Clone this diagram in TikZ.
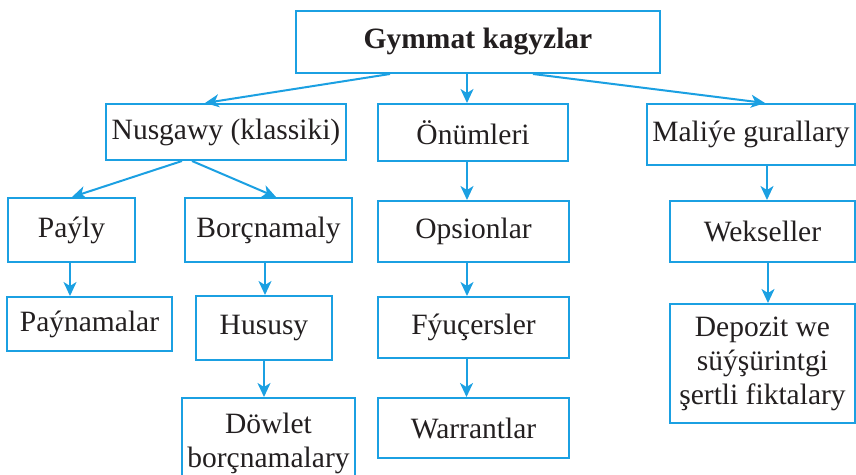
\documentclass[tikz,border=0pt]{standalone}
\usepackage{fontspec}
\setmainfont{Liberation Serif}
\usepackage{tikz}
\usetikzlibrary{arrows.meta,calc}
\definecolor{frame}{HTML}{1BA0E2}
\definecolor{ink}{HTML}{231F20}

\begin{document}
\begin{tikzpicture}[x=1pt,y=-1pt,
    cell/.style={draw=frame, line width=2pt, text=ink, align=center,
                 inner sep=2pt, font=\fontsize{29.5}{34}\selectfont},
    link/.style={draw=frame, line width=2pt,
                 -{Stealth[length=14pt,width=13pt,inset=4pt]}}]
        \clip (0,0) rectangle (856,474);
        % top level
        \node[cell, minimum width=364pt, minimum height=62pt,
              font=\fontsize{29.5}{34}\selectfont\bfseries] (top) at (478,42) {Gymmat kagyzlar};
        % second row
        \node[cell, minimum width=240pt, minimum height=56pt] (nusg) at (226,132) {Nusgawy (klassiki)};
        \node[cell, minimum width=190pt, minimum height=57pt] (onum) at (473,132.5) {Önümleri};
        \node[cell, minimum width=208pt, minimum height=61pt] (mal) at (751,134.5) {Maliýe gurallary};
        % third row
        \node[cell, minimum width=127pt, minimum height=64pt] (payly) at (71.5,230) {Paýly};
        \node[cell, minimum width=167pt, minimum height=64pt] (borc) at (268.5,230) {Borçnamaly};
        \node[cell, minimum width=191pt, minimum height=61pt] (ops) at (473.5,231.5) {Opsionlar};
        \node[cell, minimum width=185pt, minimum height=61pt] (wek) at (762.5,231.5) {Wekseller};
        % fourth row
        \node[cell, minimum width=165pt, minimum height=54pt] (payn) at (89.5,324) {Paýnamalar};
        \node[cell, minimum width=136pt, minimum height=64pt] (hus) at (264,328) {Hususy};
        \node[cell, minimum width=191pt, minimum height=61pt] (fyu) at (473.5,327.5) {Fýuçersler};
        \node[cell, minimum width=185pt, minimum height=119pt] (dep) at (762.5,363.5)
            {Depozit we\\ süýşürintgi\\ şertli fiktalary};
        % fifth row
        \node[cell, minimum width=173pt, minimum height=90pt] (dow) at (268.5,443) {Döwlet\\ borçnamalary};
        \node[cell, minimum width=191pt, minimum height=60pt] (war) at (473.5,428) {Warrantlar};

        % connectors
        \draw[link] ([xshift=-88pt]top.south) -- ([xshift=-21pt]nusg.north);
        \draw[link] ([xshift=-11pt]top.south) -- ([xshift=-6pt]onum.north);
        \draw[link] ([xshift=55pt]top.south) -- ([xshift=14pt]mal.north);
        \draw[link] ([xshift=-44pt]nusg.south) -- ([xshift=0.5pt]payly.north);
        \draw[link] ([xshift=-34pt]nusg.south) -- ([xshift=7.5pt]borc.north);
        \draw[link] ([xshift=-1.5pt]payly.south) -- ([xshift=-19.5pt]payn.north);
        \draw[link] ([xshift=-3.5pt]borc.south) -- ([xshift=1pt]hus.north);
        \draw[link] (hus.south) -- (hus.south |- dow.north);
        \draw[link] ([xshift=-6pt]onum.south) -- ([xshift=-6.5pt]ops.north);
        \draw[link] ([xshift=-6.5pt]ops.south) -- ([xshift=-6.5pt]fyu.north);
        \draw[link] ([xshift=-7pt]fyu.south) -- ([xshift=-7pt]war.north);
        \draw[link] ([xshift=16pt]mal.south) -- ([xshift=4.5pt]wek.north);
        \draw[link] ([xshift=5.5pt]wek.south) -- ([xshift=5.5pt]dep.north);
    \end{tikzpicture}
\end{document}
